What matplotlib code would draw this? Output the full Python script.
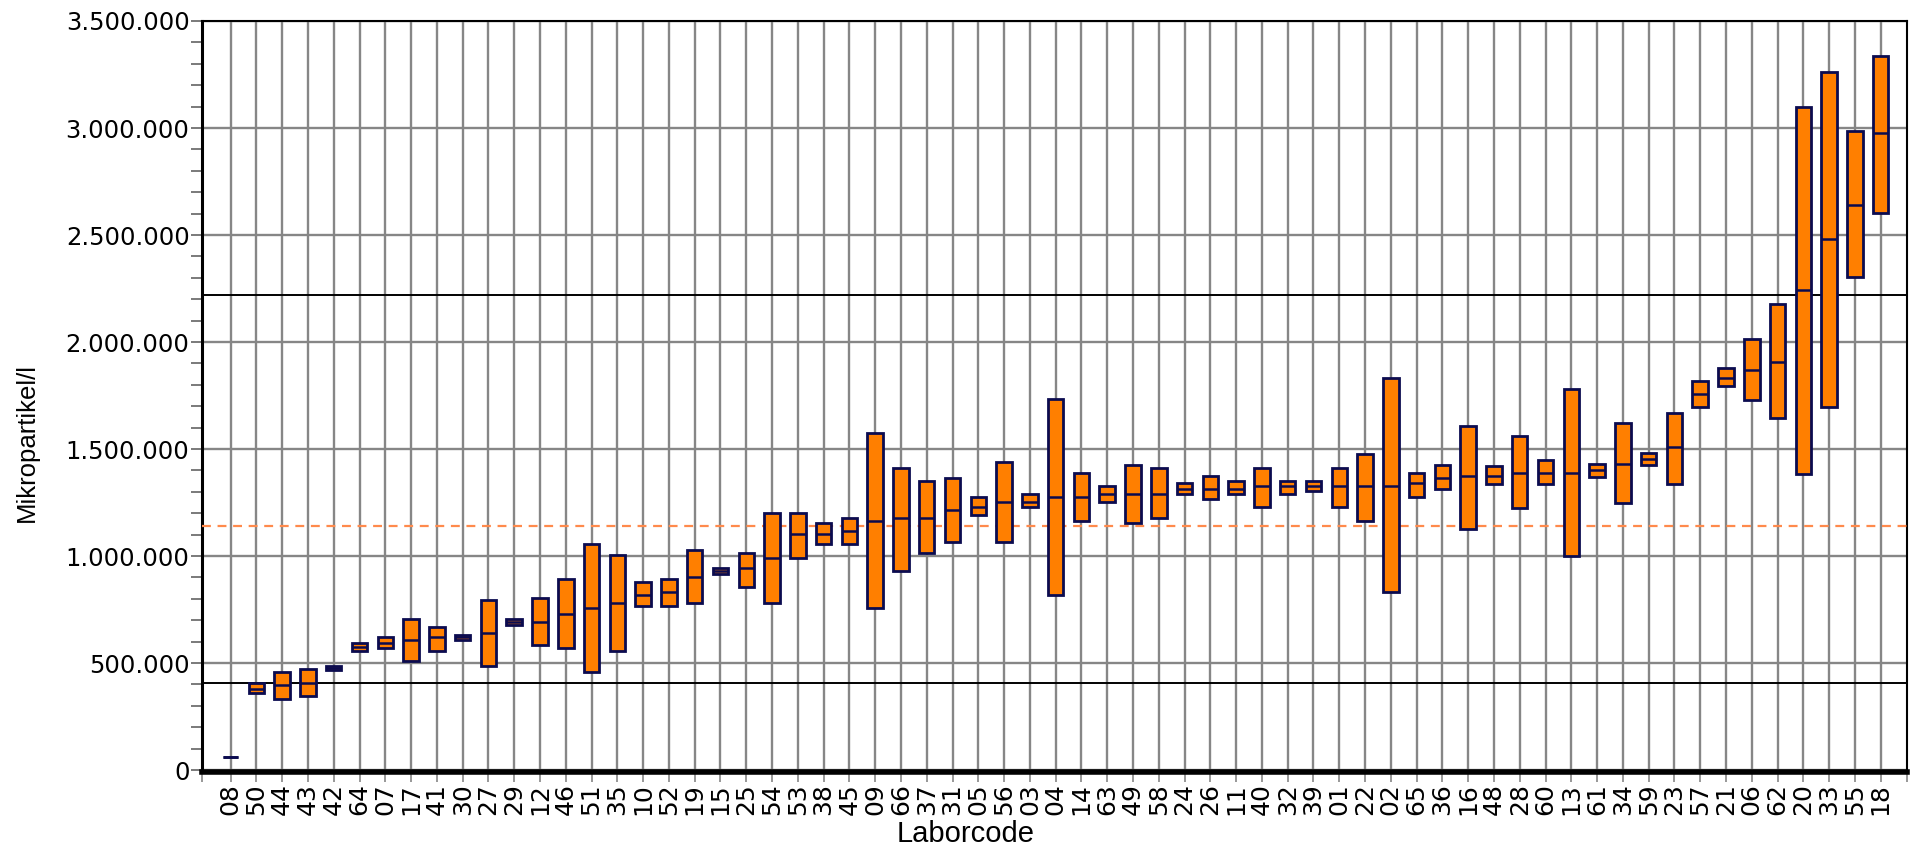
import matplotlib
matplotlib.use("Agg")
import matplotlib.pyplot as plt
from matplotlib import font_manager
from matplotlib.ticker import MultipleLocator, FuncFormatter

labs = ["08","50","44","43","42","64","07","17","41","30","27","29","12","46","51","35","10","52","19","15",
        "25","54","53","38","45","09","66","37","31","05","56","03","04","14","63","49","58","24","26","11",
        "40","32","39","01","22","02","65","36","16","48","28","60","13","61","34","59","23","57","21","06",
        "62","20","33","55","18"]
upper = [0.062,0.409,0.459,0.471,0.487,0.595,0.620,0.707,0.668,0.633,0.793,0.707,0.805,0.892,1.054,1.006,0.881,0.892,1.029,0.944,
         1.015,1.203,1.203,1.153,1.178,1.576,1.413,1.351,1.365,1.277,1.438,1.290,1.736,1.388,1.327,1.425,1.413,1.340,1.375,1.351,
         1.413,1.351,1.351,1.413,1.475,1.833,1.388,1.425,1.608,1.422,1.560,1.447,1.779,1.431,1.622,1.482,1.668,1.817,1.881,2.015,
         2.178,3.099,3.264,2.987,3.338]
lower = [0.062,0.358,0.334,0.347,0.468,0.557,0.571,0.508,0.557,0.606,0.485,0.679,0.583,0.571,0.459,0.557,0.768,0.766,0.780,0.916,
         0.855,0.780,0.992,1.054,1.054,0.755,0.930,1.016,1.066,1.191,1.066,1.228,0.818,1.166,1.251,1.153,1.178,1.290,1.265,1.290,
         1.228,1.290,1.302,1.228,1.166,0.830,1.277,1.315,1.125,1.338,1.225,1.338,1.000,1.371,1.246,1.424,1.335,1.698,1.794,1.731,
         1.645,1.383,1.698,2.305,2.604]
median = [0.062,0.380,0.396,0.409,0.477,0.575,0.595,0.606,0.620,0.620,0.642,0.693,0.693,0.731,0.755,0.780,0.819,0.830,0.904,0.930,
          0.944,0.992,1.103,1.103,1.116,1.166,1.178,1.178,1.215,1.228,1.251,1.251,1.277,1.277,1.290,1.290,1.290,1.315,1.315,1.315,
          1.327,1.327,1.327,1.327,1.327,1.327,1.340,1.365,1.373,1.375,1.387,1.387,1.386,1.404,1.431,1.454,1.508,1.756,1.832,1.868,
          1.906,2.241,2.480,2.640,2.977]
upper_limit = 2.218e6
lower_limit = 0.407e6
assigned = 1.140e6

scale = 1e6
up = [u * scale for u in upper]
lo = [l * scale for l in lower]
md = [m * scale for m in median]

avail = {f.name for f in font_manager.fontManager.ttflist}
narrow = "Liberation Sans Narrow" if "Liberation Sans Narrow" in avail else "Liberation Sans"

fig = plt.figure(figsize=(19.16, 8.5), dpi=100)
ax = fig.add_axes([202/1916, 1-772/850, (1907-202)/1916, (772-21)/850])

x = list(range(len(labs)))
bw = 0.6
NAVY = "#0b0b4f"
ORANGE = "#ff7f00"
ax.bar(x, [u - l for u, l in zip(up, lo)], bottom=lo, width=bw, color=ORANGE,
       edgecolor=NAVY, linewidth=2.0, zorder=4)
ax.hlines(md, [i - bw/2 for i in x], [i + bw/2 for i in x], color=NAVY, lw=1.8, zorder=5)

ax.axhline(upper_limit, color="black", lw=1.4, zorder=3)
ax.axhline(lower_limit, color="black", lw=1.4, zorder=3)
ax.axhline(assigned, color="#ff8a4c", lw=1.6, ls=(0, (4, 3)), zorder=3)

ax.set_xlim(-1.11, 65.02)
ax.set_ylim(-9000, 3.5e6)
ax.set_xticks(x)
ax.set_xticklabels(labs, rotation=90, family="DejaVu Sans", fontsize=18)
ax.set_xticks([-1.11, 65.02], minor=True)
ax.yaxis.set_major_locator(MultipleLocator(500000))
ax.yaxis.set_minor_locator(MultipleLocator(100000))
ax.yaxis.set_major_formatter(FuncFormatter(lambda v, p: f"{int(round(v)):,}".replace(",", ".")))
for t in ax.get_yticklabels():
    t.set_family("DejaVu Sans")
ax.tick_params(axis="y", which="major", labelsize=17.5, length=8, width=1.3, color="#707070", pad=1)
ax.tick_params(axis="y", which="minor", length=8, width=1.3, color="#707070")
ax.tick_params(axis="x", which="both", length=7, width=1.3, color="#909090", pad=1)

ax.grid(True, which="major", color="#868686", lw=1.7, zorder=0)
ax.set_axisbelow(True)

for s in ["top", "right"]:
    ax.spines[s].set_linewidth(1.5)
ax.spines["left"].set_linewidth(2.2)
ax.spines["bottom"].set_linewidth(4.0)
for s in ax.spines.values():
    s.set_color("black")

fig.text(27/1916, 1-442/850, "Mikropartikel/l", rotation=90, ha="center", va="center",
         family=narrow, fontsize=18.5)
fig.text(966/1916, 1-834/850, "Laborcode", ha="center", va="center", family=narrow, fontsize=21)

fig.savefig("out.png", dpi=100)
